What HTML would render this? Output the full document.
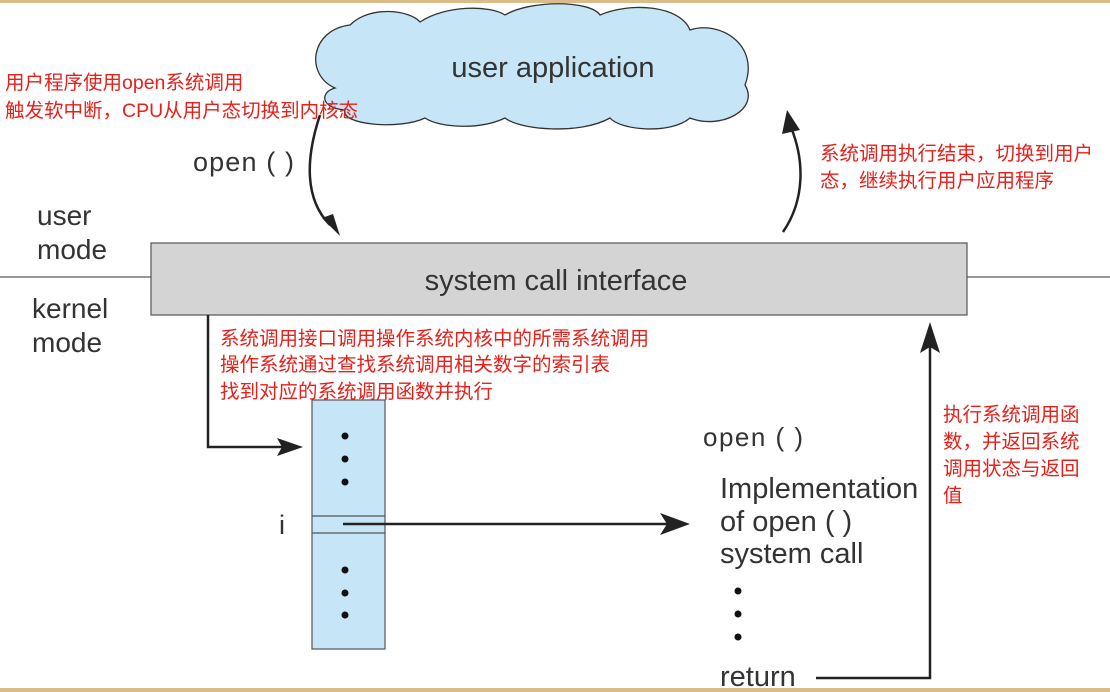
<!DOCTYPE html>
<html><head><meta charset="utf-8"><style>
html,body{margin:0;padding:0;background:#fff}
svg{display:block}
.e{font-family:"Liberation Sans","DejaVu Sans",sans-serif;fill:#333}
.r{font-family:"Liberation Sans","Noto Sans CJK SC",sans-serif;fill:#e8201a;font-size:19.5px}
</style></head><body>
<svg width="1110" height="692" viewBox="0 0 1110 692" xmlns="http://www.w3.org/2000/svg">
<rect x="0" y="0" width="1110" height="3" fill="#d9bc8a"/>
<rect x="0" y="688" width="1110" height="4" fill="#d9bc8a"/>
<g fill="#c6e6f7" stroke="#333" stroke-width="1.3">
<path d="M335,88 C305,75 310,30 350,25 C370,5 410,10 420,22 C445,5 490,5 505,15 C530,0 590,0 600,15 C630,2 680,5 690,30 C720,20 760,45 745,85 C760,110 720,130 690,118 C670,135 620,130 610,118 C580,135 520,130 505,118 C480,130 440,128 425,118 C400,130 340,125 345,110 C320,108 320,92 335,88 Z"/>
</g>
<text class="e" x="553" y="77" font-size="29" text-anchor="middle">user application</text>
<line x1="0" y1="277" x2="151" y2="277" stroke="#777" stroke-width="1.5"/>
<line x1="967" y1="277" x2="1110" y2="277" stroke="#777" stroke-width="1.5"/>
<rect x="151" y="243" width="816" height="72" fill="#d4d4d4" stroke="#555" stroke-width="1.2"/>
<text class="e" x="556" y="290" font-size="29" text-anchor="middle">system call interface</text>
<text class="e" x="37" y="225" font-size="28">user</text>
<text class="e" x="37" y="259" font-size="28">mode</text>
<text class="e" x="32" y="318" font-size="28">kernel</text>
<text class="e" x="32" y="352" font-size="28">mode</text>
<text class="e" x="193" y="171" font-size="27" textLength="101">open ( )</text>
<path d="M320,115 C305,160 305,200 330,225" fill="none" stroke="#222" stroke-width="2.5"/>
<polygon points="340,236 322,218 333,214" fill="#222"/>
<path d="M783,232 C805,200 805,160 790,125" fill="none" stroke="#222" stroke-width="2.5"/>
<polygon points="787,110 800,130 782,134" fill="#222"/>
<polyline points="208,315 208,447 290,447" fill="none" stroke="#222" stroke-width="2.5"/>
<polygon points="303,447 277,438 282,447 277,456" fill="#222"/>
<rect x="312" y="400" width="73" height="249" fill="#c6e6f7" stroke="#555" stroke-width="1.2"/>
<line x1="312" y1="516" x2="385" y2="516" stroke="#555" stroke-width="1.2"/>
<line x1="312" y1="533" x2="385" y2="533" stroke="#555" stroke-width="1.2"/>
<g fill="#111"><circle cx="345" cy="436" r="3.5"/><circle cx="345" cy="459" r="3.5"/><circle cx="345" cy="482" r="3.5"/>
<circle cx="345" cy="570" r="3.5"/><circle cx="345" cy="593" r="3.5"/><circle cx="345" cy="615" r="3.5"/>
<circle cx="738" cy="591" r="3.5"/><circle cx="738" cy="614" r="3.5"/><circle cx="738" cy="637" r="3.5"/></g>
<text class="e" x="279" y="534" font-size="27">i</text>
<line x1="343" y1="524" x2="670" y2="524" stroke="#222" stroke-width="2.5"/>
<polygon points="690,524 660,513 667,524 660,535" fill="#222"/>
<text class="e" x="703" y="446" font-size="26" textLength="100">open ( )</text>
<text class="e" x="720" y="498" font-size="29">Implementation</text>
<text class="e" x="720" y="531" font-size="29">of open ( )</text>
<text class="e" x="720" y="563" font-size="29">system call</text>
<text class="e" x="720" y="686" font-size="29">return</text>
<polyline points="816,678 930,678 930,340" fill="none" stroke="#222" stroke-width="2.5"/>
<polygon points="930,322 920,353 930,347 940,353" fill="#222"/>
<text class="r" x="5" y="89">用户程序使用open系统调用</text>
<text class="r" x="5" y="117">触发软中断，CPU从用户态切换到内核态</text>
<text class="r" x="820" y="160">系统调用执行结束，切换到用户</text>
<text class="r" x="820" y="187">态，继续执行用户应用程序</text>
<text class="r" x="220" y="345">系统调用接口调用操作系统内核中的所需系统调用</text>
<text class="r" x="220" y="371">操作系统通过查找系统调用相关数字的索引表</text>
<text class="r" x="220" y="398">找到对应的系统调用函数并执行</text>
<text class="r" x="943" y="421">执行系统调用函</text>
<text class="r" x="943" y="448">数，并返回系统</text>
<text class="r" x="943" y="475">调用状态与返回</text>
<text class="r" x="943" y="502">值</text>
</svg>
</body></html>
